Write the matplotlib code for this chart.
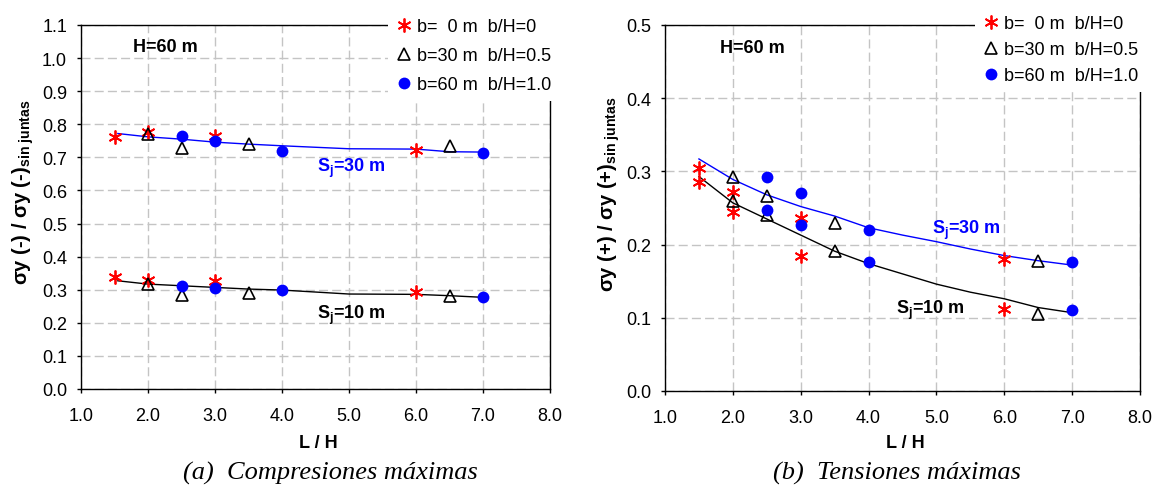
import matplotlib
matplotlib.use("Agg")
import matplotlib.pyplot as plt
from matplotlib.lines import Line2D
from matplotlib.ticker import MultipleLocator, FormatStrFormatter

plt.rcParams['font.family'] = ['Liberation Sans', 'DejaVu Sans']
plt.rcParams['mathtext.fontset'] = 'custom'
plt.rcParams['mathtext.rm'] = 'Liberation Sans'
plt.rcParams['mathtext.bf'] = 'Liberation Sans:bold'
plt.rcParams['mathtext.it'] = 'Liberation Sans:italic'

# ---------------- data ----------------
series_labels = ["b=  0 m  b/H=0", "b=30 m  b/H=0.5", "b=60 m  b/H=1.0"]

x_b0 = [1.5, 2.0, 3.0, 6.0]
x_b30 = [2.0, 2.5, 3.5, 6.5]
x_b60 = [2.5, 3.0, 4.0, 7.0]

# (a) Compresiones maximas
comp_b0_s30 = [0.763, 0.776, 0.764, 0.722]
comp_b0_s10 = [0.337, 0.330, 0.325, 0.292]
comp_b30_s30 = [0.771, 0.729, 0.739, 0.735]
comp_b30_s10 = [0.317, 0.285, 0.291, 0.282]
comp_b60_s30 = [0.764, 0.748, 0.718, 0.713]
comp_b60_s10 = [0.310, 0.304, 0.300, 0.279]

comp_line_x = [1.55, 2.0, 2.5, 3.0, 3.5, 4.0, 5.0, 6.0, 6.5, 7.0]
comp_fit_s30 = [0.772, 0.762, 0.755, 0.746, 0.740, 0.735, 0.726, 0.725, 0.717, 0.716]
comp_fit_s10 = [0.327, 0.317, 0.312, 0.307, 0.302, 0.299, 0.287, 0.286, 0.282, 0.277]

# (b) Tensiones maximas
tens_b0_s30 = [0.305, 0.272, 0.236, 0.180]
tens_b0_s10 = [0.286, 0.245, 0.184, 0.112]
tens_b30_s30 = [0.292, 0.267, 0.230, 0.177]
tens_b30_s10 = [0.260, 0.240, 0.191, 0.105]
tens_b60_s30 = [0.293, 0.270, 0.220, 0.176]
tens_b60_s10 = [0.247, 0.227, 0.176, 0.110]

tens_line_x = [1.5, 2.0, 2.5, 3.0, 3.5, 4.0, 4.5, 5.0, 5.5, 6.0, 6.5, 7.0]
tens_fit_s30 = [0.317, 0.289, 0.268, 0.252, 0.239, 0.223, 0.213, 0.204, 0.194, 0.185, 0.178, 0.172]
tens_fit_s10 = [0.293, 0.257, 0.235, 0.213, 0.191, 0.174, 0.160, 0.146, 0.135, 0.126, 0.114, 0.107]

# ---------------- styles ----------------
RED = '#ff0000'
BLUE = '#0000ff'
star_kw = dict(linestyle='none', marker=(6, 2, 0), ms=10, mec=RED, mew=1.3, color=RED)
tri_kw = dict(linestyle='none', marker='^', ms=9, mfc='none', mec='black', mew=1.2)
dot_kw = dict(linestyle='none', marker='o', ms=8.5, mfc=BLUE, mec=BLUE, mew=0)

W, H = 1155, 489
fig = plt.figure(figsize=(W / 100, H / 100), dpi=100)


def px_axes(x0, y0, x1, y1):
    return fig.add_axes([x0 / W, 1 - y1 / H, (x1 - x0) / W, (y1 - y0) / H])


ax1 = px_axes(81, 26, 550, 390)
ax2 = px_axes(665, 26, 1140, 392)


def style_axes(ax, ymax, ystep):
    ax.set_xlim(1.0, 8.0)
    ax.set_ylim(0.0, ymax)
    ax.xaxis.set_major_locator(MultipleLocator(1.0))
    ax.yaxis.set_major_locator(MultipleLocator(ystep))
    ax.xaxis.set_major_formatter(FormatStrFormatter('%.1f'))
    ax.yaxis.set_major_formatter(FormatStrFormatter('%.1f'))
    ax.tick_params(axis='both', direction='out', length=3, width=1, labelsize=13)
    ax.tick_params(axis='x', pad=10)
    ax.tick_params(axis='y', pad=7)
    ax.grid(True, color='#c4c4c4', linestyle=(0, (6.5, 3)), linewidth=1)
    ax.set_axisbelow(True)
    for s in ax.spines.values():
        s.set_color('black')
        s.set_linewidth(1.0)


style_axes(ax1, 1.1, 0.1)
style_axes(ax2, 0.5, 0.1)

# ---- (a)
ax1.plot(comp_line_x, comp_fit_s30, color=BLUE, lw=1)
ax1.plot(comp_line_x, comp_fit_s10, color='black', lw=1)
ax1.plot(x_b0, comp_b0_s30, **star_kw)
ax1.plot(x_b0, comp_b0_s10, **star_kw)
ax1.plot(x_b30, comp_b30_s30, **tri_kw)
ax1.plot(x_b30, comp_b30_s10, **tri_kw)
ax1.plot(x_b60, comp_b60_s30, **dot_kw)
ax1.plot(x_b60, comp_b60_s10, **dot_kw)

ax1.text(1.78, 1.034, "H=60 m", fontsize=13, fontweight='bold', va='center', ha='left')
ax1.text(4.52, 0.671, r"$\mathbf{S_j}$=30 m", fontsize=13, fontweight='bold', color=BLUE,
         va='center', ha='left')
ax1.text(4.52, 0.224, r"$\mathbf{S_j}$=10 m", fontsize=13, fontweight='bold', color='black',
         va='center', ha='left')

# ---- (b)
ax2.plot(tens_line_x, tens_fit_s30, color=BLUE, lw=1)
ax2.plot(tens_line_x, tens_fit_s10, color='black', lw=1)
ax2.plot(x_b0, tens_b0_s30, **star_kw)
ax2.plot(x_b0, tens_b0_s10, **star_kw)
ax2.plot(x_b30, tens_b30_s30, **tri_kw)
ax2.plot(x_b30, tens_b30_s10, **tri_kw)
ax2.plot(x_b60, tens_b60_s30, **dot_kw)
ax2.plot(x_b60, tens_b60_s10, **dot_kw)

ax2.text(1.81, 0.469, "H=60 m", fontsize=13, fontweight='bold', va='center', ha='left')
ax2.text(4.93, 0.221, r"$\mathbf{S_j}$=30 m", fontsize=13, fontweight='bold', color=BLUE,
         va='center', ha='left')
ax2.text(4.40, 0.112, r"$\mathbf{S_j}$=10 m", fontsize=13, fontweight='bold', color='black',
         va='center', ha='left')

# ---- legends
handles = [Line2D([], [], **star_kw), Line2D([], [], **tri_kw), Line2D([], [], **dot_kw)]
leg_kw = dict(loc='upper left', fontsize=13, frameon=True, fancybox=False, framealpha=1,
              facecolor='white', edgecolor='none', borderpad=0.4, handlelength=1.0,
              handletextpad=0.2, borderaxespad=0, bbox_transform=fig.transFigure)
fig.legend(handles, series_labels, bbox_to_anchor=(388 / W, 1 - 12 / H), labelspacing=0.67, **leg_kw)
fig.legend(handles, series_labels, bbox_to_anchor=(975 / W, 1 - 9 / H), labelspacing=0.5, **leg_kw)

# ---- axis labels
ylab1 = r"$\mathbf{σy\ (‐)\ /\ σy\ (‐)_{sin\ juntas}}$"
ylab2 = r"$\mathbf{σy\ (+)\ /\ σy\ (+)_{sin\ juntas}}$"
fig.text(23 / W, 1 - 192 / H, ylab1, rotation=90, ha='center', va='center', fontsize=14.5)
fig.text(609 / W, 1 - 194 / H, ylab2, rotation=90, ha='center', va='center', fontsize=14.5)

fig.text(318 / W, 1 - 444 / H, "L / H", ha='center', va='center', fontsize=13, fontweight='bold')
fig.text(905 / W, 1 - 444 / H, "L / H", ha='center', va='center', fontsize=13, fontweight='bold')

fig.text(330 / W, 1 - 473 / H, "(a)  Compresiones máximas", ha='center', va='center',
         fontsize=19, family='Liberation Serif', style='italic')
fig.text(897 / W, 1 - 473 / H, "(b)  Tensiones máximas", ha='center', va='center',
         fontsize=19, family='Liberation Serif', style='italic')

fig.savefig("out.png", dpi=100)
